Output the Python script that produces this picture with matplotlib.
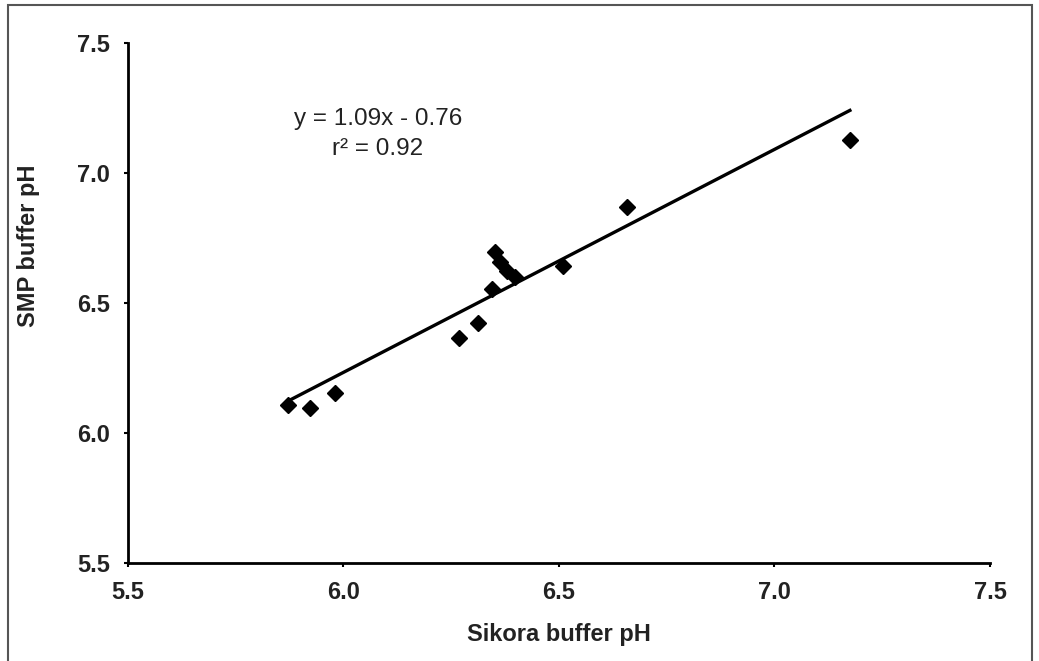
import numpy as np
import matplotlib
matplotlib.use('Agg')
import matplotlib.pyplot as plt
from matplotlib.patches import Rectangle

plt.rcParams['font.family'] = ['Liberation Sans', 'DejaVu Sans']

# Sikora buffer pH vs SMP buffer pH
sikora = [5.871, 5.922, 5.980, 6.268, 6.312, 6.345, 6.352, 6.363, 6.379, 6.398, 6.509, 6.658, 7.175]
smp = [6.108, 6.096, 6.154, 6.365, 6.423, 6.554, 6.696, 6.658, 6.623, 6.600, 6.644, 6.869, 7.127]

ticks = [5.5, 6.0, 6.5, 7.0, 7.5]
tick_labels = ['5.5', '6.0', '6.5', '7.0', '7.5']
eq_text = 'y = 1.09x - 0.76'
r2_text = 'r\u00b2 = 0.92'

fig = plt.figure(figsize=(10.39, 6.61), dpi=100)
ax = fig.add_axes([0.1232, 0.1483, 0.8296, 0.7867])

# outer frame
fig.patches.append(Rectangle((8 / 1039, -0.05), (1032 - 8) / 1039, 1.05 - 5 / 661,
                             transform=fig.transFigure, fill=False,
                             edgecolor='#555555', linewidth=1.5))

x = np.array(sikora)
y = np.array(smp)
slope, intercept = np.polyfit(x, y, 1)
xs = np.array([x.min(), x.max()])
ax.plot(xs, slope * xs + intercept, color='black', linewidth=2.4, zorder=2)
ax.plot(x, y, linestyle='none', marker='D', markersize=8.4, color='black', zorder=3)

ax.set_xlim(5.5, 7.5)
ax.set_ylim(5.5, 7.5)
ax.set_xticks(ticks)
ax.set_xticklabels(tick_labels)
ax.set_yticks(ticks)
ax.set_yticklabels(tick_labels)

for side in ['top', 'right']:
    ax.spines[side].set_visible(False)
for side in ['left', 'bottom']:
    ax.spines[side].set_linewidth(2)

ax.tick_params(direction='out', length=3, width=1.5, labelsize=17)
ax.tick_params(axis='x', pad=10)
ax.tick_params(axis='y', pad=10)
for lab in ax.get_xticklabels() + ax.get_yticklabels():
    lab.set_fontweight('bold')
    lab.set_color('#222222')

ax.set_xlabel('Sikora buffer pH', fontsize=17, fontweight='bold', color='#222222', labelpad=14)
ax.set_ylabel('SMP buffer pH', fontsize=17, fontweight='bold', color='#222222')
ax.yaxis.set_label_coords(-0.102, 0.61)

ax.text(0.290, 0.854, eq_text, transform=ax.transAxes, ha='center', va='center', fontsize=17.5, color='#222222')
ax.text(0.290, 0.796, r2_text, transform=ax.transAxes, ha='center', va='center', fontsize=17.5, color='#222222')

fig.savefig('out.png', dpi=100)
